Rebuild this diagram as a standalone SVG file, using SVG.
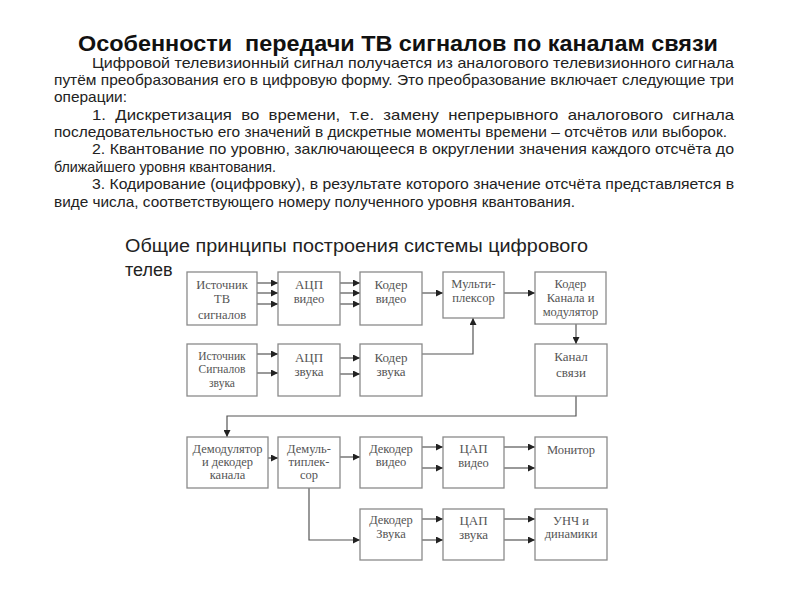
<svg xmlns="http://www.w3.org/2000/svg" width="800" height="600" viewBox="0 0 800 600">
<defs>
<style>
.title{font-family:"Liberation Sans",Arial,sans-serif;font-weight:bold;font-size:22px;fill:#111;white-space:pre}
.para{font-family:"Liberation Sans",Arial,sans-serif;font-size:14.5px;fill:#222}
.sub{font-family:"Liberation Sans",Arial,sans-serif;font-size:18px;fill:#222}
.box{fill:#fff;stroke:#8a8a8a;stroke-width:1.3}
.bt{font-family:"Liberation Serif","Times New Roman",serif;font-size:12.5px;fill:#555;text-anchor:middle}
.bt13{font-size:13px}
.bt11{font-size:11.5px}
.ln{fill:none;stroke:#555;stroke-width:1.2}
</style>
<marker id="ah" viewBox="0 0 8 8" refX="8" refY="4" markerWidth="7" markerHeight="7" markerUnits="userSpaceOnUse" orient="auto">
<path d="M0,0 L8,4 L0,8 z" fill="#222"/>
</marker>
<clipPath id="cut"><rect x="0" y="255" width="176" height="30"/></clipPath>
</defs>
<rect width="800" height="600" fill="#fff"/>

<text class="title" x="78" y="51" textLength="640" lengthAdjust="spacingAndGlyphs" xml:space="preserve">Особенности  передачи ТВ сигналов по каналам связи</text>

<g id="paragraph">
<text class="para" x="92" y="68" textLength="642" lengthAdjust="spacingAndGlyphs">Цифровой телевизионный сигнал получается из аналогового телевизионного сигнала</text>
<text class="para" x="54" y="85" textLength="680" lengthAdjust="spacingAndGlyphs">путём преобразования его в цифровую форму. Это преобразование включает следующие три</text>
<text class="para" x="54" y="102" textLength="73" lengthAdjust="spacingAndGlyphs">операции:</text>
<text class="para" x="92" y="120" textLength="642" lengthAdjust="spacingAndGlyphs" xml:space="preserve">1.  Дискретизация  во  времени,  т.е.  замену  непрерывного  аналогового  сигнала</text>
<text class="para" x="54" y="137" textLength="673" lengthAdjust="spacingAndGlyphs">последовательностью его значений в дискретные моменты времени – отсчётов или выборок.</text>
<text class="para" x="92" y="154" textLength="642" lengthAdjust="spacingAndGlyphs">2. Квантование по уровню, заключающееся в округлении значения каждого отсчёта до</text>
<text class="para" x="54" y="172" textLength="222" lengthAdjust="spacingAndGlyphs">ближайшего уровня квантования.</text>
<text class="para" x="92" y="189" textLength="642" lengthAdjust="spacingAndGlyphs">3. Кодирование (оцифровку), в результате которого значение отсчёта представляется в</text>
<text class="para" x="54" y="207" textLength="521" lengthAdjust="spacingAndGlyphs">виде числа, соответствующего номеру полученного уровня квантования.</text>
</g>

<g id="subtitle">
<text class="sub" x="125" y="252" textLength="463" lengthAdjust="spacingAndGlyphs">Общие принципы построения системы цифрового</text>
<text class="sub" x="125" y="276" clip-path="url(#cut)">телев</text>
</g>

<g id="connectors">
<line class="ln" x1="257" y1="283" x2="278" y2="283" marker-end="url(#ah)"/>
<line class="ln" x1="257" y1="293" x2="278" y2="293" marker-end="url(#ah)"/>
<line class="ln" x1="257" y1="304" x2="278" y2="304" marker-end="url(#ah)"/>
<line class="ln" x1="340" y1="283" x2="360" y2="283" marker-end="url(#ah)"/>
<line class="ln" x1="340" y1="293" x2="360" y2="293" marker-end="url(#ah)"/>
<line class="ln" x1="340" y1="304" x2="360" y2="304" marker-end="url(#ah)"/>
<line class="ln" x1="422" y1="293" x2="443" y2="293" marker-end="url(#ah)"/>
<line class="ln" x1="504" y1="293" x2="535" y2="293" marker-end="url(#ah)"/>
<line class="ln" x1="576" y1="324" x2="576" y2="344" marker-end="url(#ah)"/>
<line class="ln" x1="257" y1="354" x2="278" y2="354" marker-end="url(#ah)"/>
<line class="ln" x1="257" y1="373" x2="278" y2="373" marker-end="url(#ah)"/>
<line class="ln" x1="340" y1="358" x2="360" y2="358" marker-end="url(#ah)" stroke-width="2"/>
<line class="ln" x1="340" y1="374" x2="360" y2="374" marker-end="url(#ah)"/>
<polyline class="ln" points="422,354 473,354 473,318" marker-end="url(#ah)"/>
<polyline class="ln" points="576,396 576,416 227,416 227,437" marker-end="url(#ah)"/>
<line class="ln" x1="268" y1="458" x2="278" y2="458" marker-end="url(#ah)"/>
<line class="ln" x1="340" y1="457" x2="360" y2="457" marker-end="url(#ah)"/>
<polyline class="ln" points="309,488 309,540 360,540" marker-end="url(#ah)"/>
<line class="ln" x1="422" y1="447" x2="443" y2="447" marker-end="url(#ah)"/>
<line class="ln" x1="422" y1="468" x2="443" y2="468" marker-end="url(#ah)"/>
<line class="ln" x1="504" y1="447" x2="535" y2="447" marker-end="url(#ah)"/>
<line class="ln" x1="504" y1="468" x2="535" y2="468" marker-end="url(#ah)"/>
<line class="ln" x1="422" y1="519" x2="443" y2="519" marker-end="url(#ah)"/>
<line class="ln" x1="422" y1="540" x2="443" y2="540" marker-end="url(#ah)"/>
<line class="ln" x1="504" y1="519" x2="535" y2="519" marker-end="url(#ah)"/>
<line class="ln" x1="504" y1="540" x2="535" y2="540" marker-end="url(#ah)"/>
</g>

<g id="src_tv"><rect class="box" x="187" y="272" width="70" height="53"/>
<text class="bt" x="222" y="289">Источник</text><text class="bt" x="222" y="303">ТВ</text><text class="bt" x="222" y="319">сигналов</text></g>
<g id="adc_video"><rect class="box" x="278" y="272" width="62" height="53"/>
<text class="bt bt13" x="309" y="289">АЦП</text><text class="bt" x="309" y="303">видео</text></g>
<g id="enc_video"><rect class="box" x="360" y="272" width="62" height="53"/>
<text class="bt bt13" x="391" y="289">Кодер</text><text class="bt" x="391" y="303">видео</text></g>
<g id="mux"><rect class="box" x="443" y="272" width="61" height="46"/>
<text class="bt" x="473.5" y="288">Мульти-</text><text class="bt" x="473.5" y="302">плексор</text></g>
<g id="ch_enc"><rect class="box" x="535" y="272" width="71" height="52"/>
<text class="bt" x="570.5" y="288">Кодер</text><text class="bt" x="570.5" y="302">Канала и</text><text class="bt" x="570.5" y="316">модулятор</text></g>

<g id="src_audio"><rect class="box" x="187" y="344" width="70" height="52"/>
<text class="bt bt11" x="222" y="360">Источник</text><text class="bt bt11" x="222" y="373">Сигналов</text><text class="bt bt11" x="222" y="387">звука</text></g>
<g id="adc_audio"><rect class="box" x="278" y="344" width="62" height="52"/>
<text class="bt bt13" x="309" y="362">АЦП</text><text class="bt bt13" x="309" y="376">звука</text></g>
<g id="enc_audio"><rect class="box" x="360" y="344" width="62" height="52"/>
<text class="bt bt13" x="391" y="362">Кодер</text><text class="bt bt13" x="391" y="376">звука</text></g>
<g id="channel"><rect class="box" x="535" y="344" width="72" height="52"/>
<text class="bt bt13" x="571" y="361">Канал</text><text class="bt bt13" x="571" y="377">связи</text></g>

<g id="demod"><rect class="box" x="187" y="437" width="81" height="51"/>
<text class="bt" x="227.5" y="453">Демодулятор</text><text class="bt" x="227.5" y="466">и декодер</text><text class="bt" x="227.5" y="479">канала</text></g>
<g id="demux"><rect class="box" x="278" y="437" width="62" height="51"/>
<text class="bt" x="309" y="453">Демуль-</text><text class="bt" x="309" y="466">типлек-</text><text class="bt" x="309" y="479">сор</text></g>
<g id="dec_video"><rect class="box" x="360" y="437" width="62" height="51"/>
<text class="bt" x="391" y="453">Декодер</text><text class="bt" x="391" y="466">видео</text></g>
<g id="dac_video"><rect class="box" x="443" y="437" width="61" height="51"/>
<text class="bt bt13" x="473.5" y="453">ЦАП</text><text class="bt" x="473.5" y="467">видео</text></g>
<g id="monitor"><rect class="box" x="535" y="437" width="72" height="51"/>
<text class="bt" x="571" y="454">Монитор</text></g>

<g id="dec_audio"><rect class="box" x="360" y="509" width="62" height="51"/>
<text class="bt" x="391" y="524">Декодер</text><text class="bt" x="391" y="538">Звука</text></g>
<g id="dac_audio"><rect class="box" x="443" y="509" width="61" height="51"/>
<text class="bt bt13" x="473.5" y="525">ЦАП</text><text class="bt bt13" x="473.5" y="539">звука</text></g>
<g id="amp"><rect class="box" x="535" y="509" width="72" height="51"/>
<text class="bt" x="571" y="525">УНЧ и</text><text class="bt" x="571" y="538">динамики</text></g>
</svg>
